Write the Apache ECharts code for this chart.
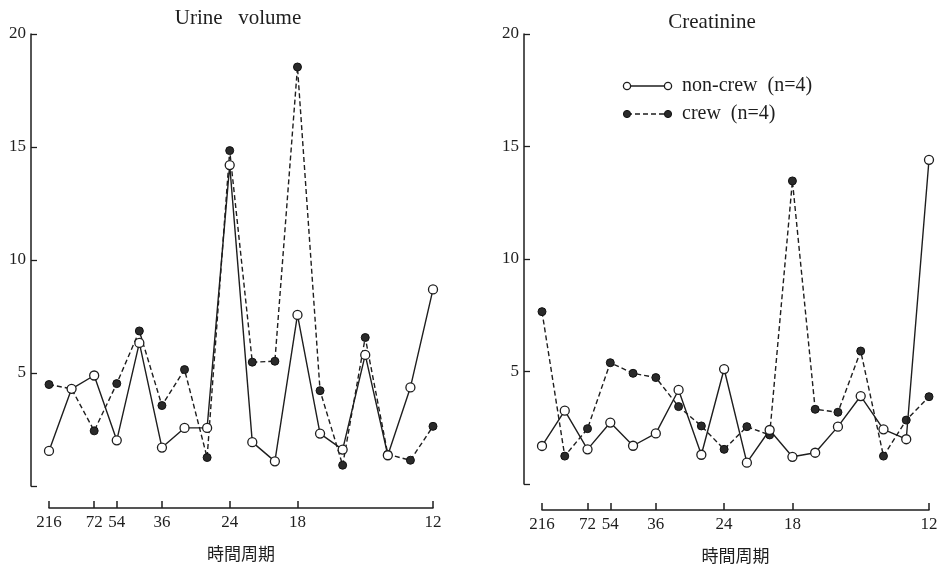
<!DOCTYPE html>
<html><head><meta charset="utf-8">
<script src="https://cdn.jsdelivr.net/npm/echarts@6/dist/echarts.min.js"></script>
<style>html,body{margin:0;padding:0;background:#fff}#c{width:941px;height:569px}</style>
</head><body><div id="c"></div>
<script>
// harmonic number k; period = 216 / k
const BASE_PERIOD = 216;
const harmonics = [1,2,3,4,5,6,7,8,9,10,11,12,13,14,15,16,17,18];
const periodTicks = [216, 72, 54, 36, 24, 18, 12];
const yTicks = [0, 5, 10, 15, 20];

const urineNonCrew = [1.55, 4.30, 4.89, 2.02, 6.33, 1.70, 2.57, 2.57, 14.2, 1.94, 1.09, 7.57, 2.32, 1.61, 5.80, 1.36, 4.36, 8.70];
const urineCrew    = [4.49, 4.30, 2.44, 4.53, 6.86, 3.56, 5.15, 1.26, 14.84, 5.48, 5.52, 18.54, 4.22, 0.92, 6.57, 1.40, 1.14, 2.64];
const creatNonCrew = [1.69, 3.26, 1.54, 2.73, 1.70, 2.25, 4.18, 1.30, 5.11, 0.95, 2.40, 1.21, 1.39, 2.55, 3.91, 2.43, 1.99, 14.41];
const creatCrew    = [7.66, 1.24, 2.46, 5.39, 4.92, 4.73, 3.44, 2.58, 1.54, 2.55, 2.18, 13.47, 3.32, 3.19, 5.91, 1.24, 2.84, 3.88];

const titles = ['Urine   volume', 'Creatinine'];
const xName = '時間周期';
const legendNames = ['non-crew  (n=4)', 'crew  (n=4)'];

const SERIF = '"Liberation Serif", "DejaVu Serif", serif';
const INK = '#1e1e1e';

const tickPositions = periodTicks.map(p => BASE_PERIOD / p);
const pairs = arr => harmonics.map((k, i) => [k, arr[i]]);

function xAxisFor(gridIndex, offset) {
  return {
    type: 'value', gridIndex, min: 1, max: 18, offset,
    name: xName, nameLocation: 'middle', nameGap: 37,
    nameTextStyle: { fontFamily: '"Noto Sans CJK JP", sans-serif', fontSize: 17, color: INK },
    axisLine: { show: true, onZero: false, lineStyle: { color: INK, width: 1.5 } },
    axisTick: { show: true, inside: true, length: 7, customValues: tickPositions, lineStyle: { color: INK, width: 1.5 } },
    axisLabel: { customValues: tickPositions, margin: 6, fontFamily: SERIF, fontSize: 17, color: INK,
      formatter: v => String(Math.round(BASE_PERIOD / v)) },
    splitLine: { show: false }
  };
}
function yAxisFor(gridIndex, offset) {
  return {
    type: 'value', gridIndex, min: 0, max: 20, interval: 5, offset,
    axisLine: { show: true, onZero: false, lineStyle: { color: INK, width: 1.5 } },
    axisTick: { show: true, inside: true, length: 6, lineStyle: { color: INK, width: 1.3 } },
    axisLabel: { margin: 5, fontFamily: SERIF, fontSize: 17, color: INK,
      formatter: v => (v === 0 ? '' : String(v)) },
    splitLine: { show: false }
  };
}
function crewSeries(data, idx) {
  return {
    name: legendNames[1], type: 'line', xAxisIndex: idx, yAxisIndex: idx, data: pairs(data),
    symbol: 'circle', symbolSize: 8, z: 2,
    itemStyle: { color: '#2a2a2a', borderColor: '#111', borderWidth: 1 },
    lineStyle: { color: INK, width: 1.4, type: [5, 3] }, animation: false
  };
}
function nonCrewSeries(data, idx) {
  return {
    name: legendNames[0], type: 'line', xAxisIndex: idx, yAxisIndex: idx, data: pairs(data),
    symbol: 'circle', symbolSize: 9, z: 3,
    itemStyle: { color: '#fff', borderColor: INK, borderWidth: 1.3 },
    lineStyle: { color: INK, width: 1.4, type: 'solid' }, animation: false
  };
}

// legend drawn as graphic (markers at both ends, like the reference)
const lx0 = 627, lx1 = 668, ly = [86, 114];
const LFONT = '20px ' + SERIF;
const legendGraphic = [
  { type: 'line', shape: { x1: lx0, y1: ly[0], x2: lx1, y2: ly[0] }, style: { stroke: INK, lineWidth: 1.4 } },
  { type: 'circle', shape: { cx: lx0, cy: ly[0], r: 3.6 }, style: { fill: '#fff', stroke: INK, lineWidth: 1.3 }, z: 5 },
  { type: 'circle', shape: { cx: lx1, cy: ly[0], r: 3.6 }, style: { fill: '#fff', stroke: INK, lineWidth: 1.3 }, z: 5 },
  { type: 'text', x: 682, y: ly[0], style: { text: legendNames[0], font: LFONT, fill: INK, verticalAlign: 'middle' } },
  { type: 'line', shape: { x1: lx0, y1: ly[1], x2: lx1, y2: ly[1] }, style: { stroke: INK, lineWidth: 1.4, lineDash: [5, 3] } },
  { type: 'circle', shape: { cx: lx0, cy: ly[1], r: 3.6 }, style: { fill: '#2a2a2a', stroke: '#111', lineWidth: 1 }, z: 5 },
  { type: 'circle', shape: { cx: lx1, cy: ly[1], r: 3.6 }, style: { fill: '#2a2a2a', stroke: '#111', lineWidth: 1 }, z: 5 },
  { type: 'text', x: 682, y: ly[1], style: { text: legendNames[1], font: LFONT, fill: INK, verticalAlign: 'middle' } }
];

const chart = echarts.init(document.getElementById('c'), null, { renderer: 'canvas' });
chart.setOption({
  backgroundColor: '#fff',
  animation: false,
  title: [
    { text: titles[0], left: 233, top: 3, textAlign: 'center',
      textStyle: { fontFamily: SERIF, fontSize: 21, fontWeight: 'normal', color: INK } },
    { text: titles[1], left: 707, top: 7, textAlign: 'center',
      textStyle: { fontFamily: SERIF, fontSize: 21, fontWeight: 'normal', color: INK } }
  ],
  grid: [
    { left: 49, right: 508, top: 34, height: 452 },
    { left: 542, right: 12, top: 34, height: 450 }
  ],
  xAxis: [xAxisFor(0, 22), xAxisFor(1, 26)],
  yAxis: [yAxisFor(0, 18), yAxisFor(1, 18)],
  series: [
    crewSeries(urineCrew, 0), nonCrewSeries(urineNonCrew, 0),
    crewSeries(creatCrew, 1), nonCrewSeries(creatNonCrew, 1)
  ],
  graphic: legendGraphic
});
</script></body></html>
